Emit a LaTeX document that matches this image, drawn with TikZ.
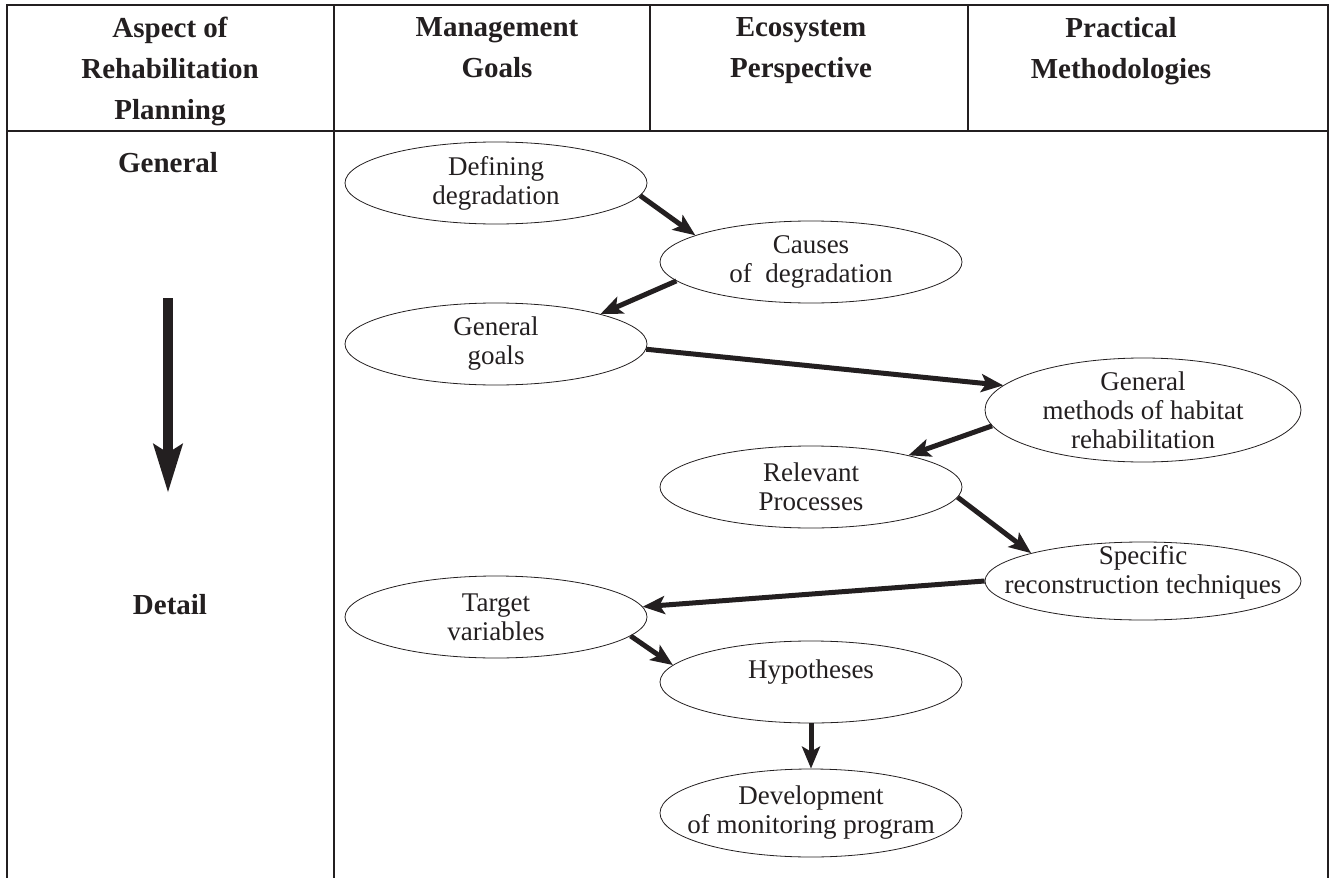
\documentclass[tikz,border=0pt]{standalone}
\usepackage{fontspec}
\setmainfont{Liberation Serif}
\usetikzlibrary{shapes.geometric,arrows.meta,positioning}
\definecolor{ink}{RGB}{35,31,32}

\begin{document}
\begin{tikzpicture}[x=0.5pt, y=-0.5pt,
    stage/.style={ellipse, draw=ink, line width=0.4pt, inner sep=0pt, minimum width=151pt, minimum height=41pt},
    stagetext/.style={align=center, inner sep=0pt, text=ink, font=\fontsize{13.5}{14.5}\selectfont},
    headtext/.style={align=center, anchor=north, inner sep=0pt, text=ink, font=\bfseries\fontsize{14.5}{20.5}\selectfont},
    leveltext/.style={inner sep=0pt, text=ink, font=\bfseries\fontsize{14.5}{17}\selectfont},
    flow/.style={draw=ink, line width=2.5pt, -{Stealth[length=11pt, width=9pt, inset=2.5pt]}},
    trend/.style={draw=ink, line width=5pt, -{Stealth[length=24pt, width=14pt, inset=4pt]}},
    tableframe/.style={draw=ink, line width=1pt},
    tablerule/.style={draw=ink, line width=0.6pt}]
    \useasboundingbox (0,0) rectangle (1329,878);

    % Table lines
    \draw[tableframe] (7,878) -- (7,5) -- (1328,5) -- (1328,878);
    \draw[tablerule] (7,131) -- (1328,131);
    \draw[tablerule] (334,5) -- (334,878);
    \draw[tablerule] (650,5) -- (650,131);
    \draw[tablerule] (968,5) -- (968,131);

    % Column heads
    \node[headtext] (aspect) at (170,17) {Aspect of\\Rehabilitation\\Planning};
    \node[headtext] (mgmt) at (497,17) {Management\\Goals};
    \node[headtext] (eco) at (801,17) {Ecosystem\\Perspective};
    \node[headtext] (prac) at (1121,17) {Practical\\Methodologies};

    % From general to detail
    \node[leveltext] (general) at (168,163) {General};
    \node[leveltext] (detail) at (170,605) {Detail};
    \coordinate (trendtop) at (168,298);
    \coordinate (trendtip) at (168,493);
    \draw[trend] (trendtop) -- (trendtip);

    % Planning steps
    \node[stage, label={[stagetext]center:{Defining\\degradation}}] (defdeg) at (496,183) {};
    \node[stage, label={[stagetext]center:{Causes\\of~ degradation}}] (causes) at (811,262) {};
    \node[stage, label={[stagetext]center:{General\\goals}}] (gengoals) at (496,344) {};
    \node[stage, minimum width=158pt, minimum height=52pt,
        label={[stagetext]center:{General\\methods of habitat\\rehabilitation}}] (genmeth) at (1143,410) {};
    \node[stage, label={[stagetext]center:{Relevant\\Processes}}] (relproc) at (811,487) {};
    \node[stage, minimum width=158pt, minimum height=39pt,
        label={[stagetext, yshift=4.5pt]center:{Specific\\reconstruction techniques}}] (specrec) at (1143,581) {};
    \node[stage, label={[stagetext]center:{Target\\variables}}] (targvar) at (496,617) {};
    \node[stage, label={[stagetext, yshift=5pt]center:{Hypotheses}}] (hypo) at (811,682) {};
    \node[stage, minimum height=44pt,
        label={[stagetext]center:{Development\\of monitoring program}}] (devmon) at (811,813) {};

    % Connections
    \draw[flow] (defdeg.-5) -- (causes.167);
    \draw[flow] (causes.188) -- (gengoals.16);
    \draw[flow] (gengoals.-2) -- (genmeth.170);
    \draw[flow] (genmeth.186) -- (relproc.18);
    \draw[flow] (relproc.-4) -- (specrec.166);
    \draw[flow] (specrec.180) -- (targvar.4);
    \draw[flow] (targvar.-8) -- (hypo.173);
    \draw[flow] (hypo.south) -- (devmon.north);
\end{tikzpicture}
\end{document}
